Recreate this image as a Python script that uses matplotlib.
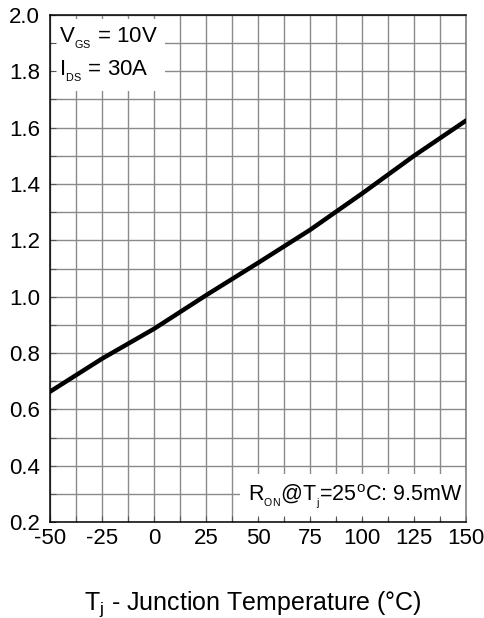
import numpy as np
import matplotlib.pyplot as plt

plt.rcParams['font.family'] = ['Liberation Sans', 'DejaVu Sans']
plt.rcParams['mathtext.fontset'] = 'custom'
plt.rcParams['mathtext.rm'] = 'Liberation Sans'

# normalized on-resistance vs junction temperature
temp = [-50, -25, 0, 25, 50, 75, 100, 125, 150]
ron_norm = [0.663, 0.780, 0.886, 1.005, 1.120, 1.237, 1.366, 1.500, 1.625]

xticks = [-50, -25, 0, 25, 50, 75, 100, 125, 150]
yticks = [0.2, 0.4, 0.6, 0.8, 1.0, 1.2, 1.4, 1.6, 1.8, 2.0]

fig = plt.figure(figsize=(4.85, 6.18), dpi=100)
ax = fig.add_axes([0.103, 0.155, 0.858, 0.821])

# grid drawn by hand so the label boxes can cover it but not the ticks
xg = np.arange(-50, 150.1, 12.5)
yg = np.arange(0.2, 2.001, 0.1)
ax.vlines(xg, 0.2, 2.0, colors='#8a8a8a', lw=1.0, zorder=0.8)
ax.hlines(yg, -50, 150, colors='#8a8a8a', lw=1.0, zorder=0.8)

ax.plot(temp, ron_norm, color='black', lw=3.2, solid_capstyle='round', zorder=3)

ax.set_xlim(-50, 150)
ax.set_ylim(0.2, 2.0)
ax.set_xticks(xticks)
ax.set_yticks(yticks)
ax.set_xticks(xg, minor=True)
ax.set_yticks(yg, minor=True)
ax.set_xticklabels([str(t) for t in xticks])
ax.set_yticklabels(['%.1f' % v for v in yticks])
ax.tick_params(which='both', direction='in', length=4, width=0.8, color='#555555',
               labelsize=16, top=False, right=False)
ax.tick_params(axis='x', pad=4)
ax.tick_params(axis='y', pad=7)
for s in ax.spines.values():
    s.set_linewidth(1.1)
    s.set_zorder(2.5)
ax.spines['right'].set_color('#777777')

ax.text(-45.5, 1.96, 'V$_{_{\\mathregular{GS}}}$ = 10V\nI$_{_{\\mathregular{DS}}}$ = 30A',
        fontsize=16, va='top', ha='left', linespacing=1.45, zorder=1,
        bbox=dict(facecolor='white', edgecolor='none', pad=5))
ax.text(148.5, 0.29, 'R$_{_{\\mathregular{ON}}}$@T$_{_{\\mathregular{j}}}$=25$^{\\mathregular{o}}$C: 9.5mW',
        fontsize=15.5, va='center', ha='right', zorder=1,
        bbox=dict(facecolor='white', edgecolor='none', pad=6))

fig.text(0.522, 0.013, 'T$_{\\mathregular{j}}$ - Junction Temperature (°C)',
         fontsize=18, ha='center', va='baseline')

fig.savefig('out.png', dpi=100)
